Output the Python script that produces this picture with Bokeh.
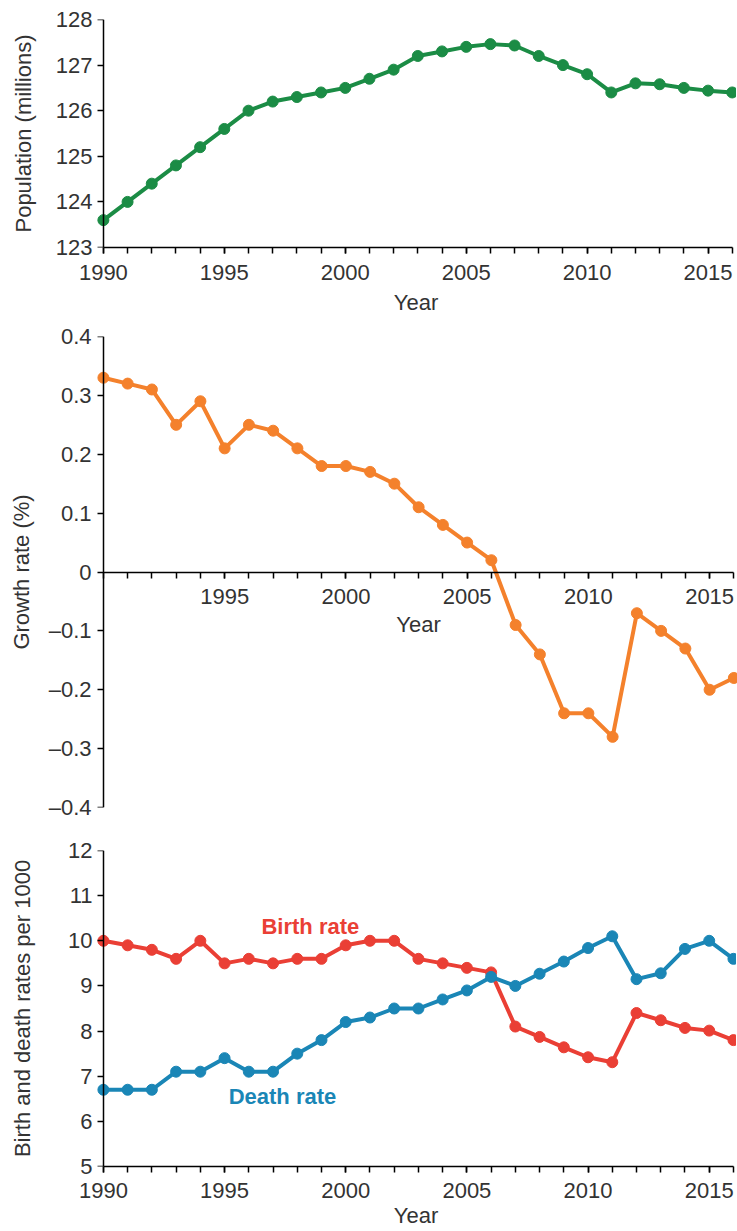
from bokeh.plotting import figure
from bokeh.layouts import column
from bokeh.models import Range1d, FixedTicker, LinearAxis, CustomJSTickFormatter, Label
from bokeh.embed import file_html
from bokeh.resources import INLINE

# ---------------- data ----------------
years = list(range(1990, 2017))
population = [123.6, 124.0, 124.4, 124.8, 125.2, 125.6, 126.0, 126.2, 126.3, 126.4,
              126.5, 126.7, 126.9, 127.2, 127.3, 127.4, 127.46, 127.43, 127.2, 127.0,
              126.8, 126.4, 126.6, 126.58, 126.5, 126.44, 126.4]
growth = [0.33, 0.32, 0.31, 0.25, 0.29, 0.21, 0.25, 0.24, 0.21, 0.18,
          0.18, 0.17, 0.15, 0.11, 0.08, 0.05, 0.02, -0.09, -0.14, -0.24,
          -0.24, -0.28, -0.07, -0.10, -0.13, -0.20, -0.18]
birth = [10.0, 9.9, 9.8, 9.6, 10.0, 9.5, 9.6, 9.5, 9.6, 9.6,
         9.9, 10.0, 10.0, 9.6, 9.5, 9.4, 9.3, 8.1, 7.87, 7.64,
         7.42, 7.31, 8.4, 8.24, 8.07, 8.01, 7.8]
death = [6.7, 6.7, 6.7, 7.1, 7.1, 7.4, 7.1, 7.1, 7.5, 7.8,
         8.2, 8.3, 8.5, 8.5, 8.7, 8.9, 9.2, 9.0, 9.27, 9.54,
         9.84, 10.1, 9.15, 9.28, 9.82, 10.0, 9.6]

pop_ticks = [123, 124, 125, 126, 127, 128]
growth_ticks = [-0.4, -0.3, -0.2, -0.1, 0.0, 0.1, 0.2, 0.3, 0.4]
rate_ticks = [5, 6, 7, 8, 9, 10, 11, 12]
year_ticks_full = [1990, 1995, 2000, 2005, 2010, 2015]
year_ticks_mid = [1995, 2000, 2005, 2010, 2015]

# ---------------- style ----------------
FONT = "Liberation Sans"
TXT = "#333333"
GREEN = "#1b8c45"
ORANGE = "#f4812c"
RED = "#ea3f35"
BLUE = "#1a86b6"
FS = "22px"
LW = 4
MS = 11


def style_axis(ax, label_standoff, major_standoff, minor=False):
    ax.axis_line_color = "black"
    ax.axis_line_width = 1.5
    ax.major_tick_line_color = "black"
    ax.major_tick_line_width = 1.5
    ax.major_tick_out = 6
    ax.major_tick_in = 0
    if minor:
        ax.minor_tick_line_color = "black"
        ax.minor_tick_line_width = 1.5
        ax.minor_tick_out = 6
        ax.minor_tick_in = 0
    else:
        ax.minor_tick_line_color = None
    ax.major_label_text_font = FONT
    ax.major_label_text_font_size = FS
    ax.major_label_text_color = TXT
    ax.major_label_standoff = major_standoff
    ax.axis_label_text_font = FONT
    ax.axis_label_text_font_size = FS
    ax.axis_label_text_font_style = "normal"
    ax.axis_label_text_color = TXT
    ax.axis_label_standoff = label_standoff


def add_y_axes(p, ticks, label, label_standoff, major_standoff, formatter=None):
    # line + ticks, pinned at the 1990 position
    line_ax = LinearAxis(fixed_location=1990, ticker=FixedTicker(ticks=ticks))
    style_axis(line_ax, 0, 0)
    line_ax.major_label_text_color = None
    p.add_layout(line_ax, "left")
    # tick labels + title in the left panel
    kw = {} if formatter is None else {"formatter": formatter}
    lab_ax = LinearAxis(ticker=FixedTicker(ticks=ticks), axis_label=label, **kw)
    style_axis(lab_ax, label_standoff, major_standoff)
    lab_ax.axis_line_color = None
    lab_ax.major_tick_line_color = None
    lab_ax.major_tick_out = 0
    p.add_layout(lab_ax, "left")
    if formatter is not None:
        line_ax.formatter = formatter


def make_fig(xr, yr, fw, fh, left, top, bottom):
    p = figure(x_range=Range1d(*xr), y_range=Range1d(*yr),
               frame_width=fw, frame_height=fh,
               min_border_left=left, min_border_right=0,
               min_border_top=top, min_border_bottom=bottom,
               x_axis_type=None, y_axis_type=None,
               toolbar_location=None, output_backend="svg")
    p.outline_line_color = None
    p.background_fill_color = "white"
    p.border_fill_color = "white"
    return p


# ---------------- panel 1: population ----------------
p1 = make_fig((1989.55, 2016.3), (123, 128), 647, 228, 89, 19, 73)
p1.line(years, population, line_width=LW, color=GREEN)
p1.scatter(years, population, size=MS, color=GREEN)

add_y_axes(p1, pop_ticks, "Population (millions)", 17, 0)
x1 = LinearAxis(ticker=FixedTicker(ticks=year_ticks_full, minor_ticks=years),
                bounds=(1990, 2016), axis_label="Year")
style_axis(x1, 7, 11, minor=True)
p1.add_layout(x1, "below")

# ---------------- panel 2: growth ----------------
p2 = make_fig((1989.55, 2016.15), (-0.4, 0.4), 645, 471, 92, 16, 20)
p2.line(years, growth, line_width=LW, color=ORANGE)
p2.scatter(years, growth, size=MS, color=ORANGE)

fmt = CustomJSTickFormatter(code="""
if (Math.abs(tick) < 1e-9) { return "0"; }
const s = Math.abs(tick).toFixed(1);
return tick < 0 ? "\\u2013" + s : s;
""")
add_y_axes(p2, growth_ticks, "Growth rate (%)", 12, 1, formatter=fmt)
x2 = LinearAxis(fixed_location=0, ticker=FixedTicker(ticks=year_ticks_mid, minor_ticks=years),
                bounds=(1990, 2016), axis_label="Year")
style_axis(x2, 4, 11, minor=True)
p2.add_layout(x2, "below")

# ---------------- panel 3: birth & death ----------------
p3 = make_fig((1989.55, 2016.25), (5, 12), 647, 316, 89, 23, 63)
p3.line(years, birth, line_width=LW, color=RED)
p3.scatter(years, birth, size=MS, color=RED)
p3.line(years, death, line_width=LW, color=BLUE)
p3.scatter(years, death, size=MS, color=BLUE)

add_y_axes(p3, rate_ticks, "Birth and death rates per 1000", 30, 0)
x3 = LinearAxis(ticker=FixedTicker(ticks=year_ticks_full, minor_ticks=years),
                bounds=(1990, 2016), axis_label="Year")
style_axis(x3, 2, 10, minor=True)
p3.add_layout(x3, "below")

p3.add_layout(Label(x=1998.54, y=10.32, text="Birth rate", text_align="center",
                    text_baseline="middle", text_font=FONT, text_font_style="bold",
                    text_font_size="22px", text_color=RED))
p3.add_layout(Label(x=1997.39, y=6.55, text="Death rate", text_align="center",
                    text_baseline="middle", text_font=FONT, text_font_style="bold",
                    text_font_size="22px", text_color=BLUE))

layout = column(p1, p2, p3, spacing=0)
open("out.html", "w").write(file_html(layout, INLINE))
